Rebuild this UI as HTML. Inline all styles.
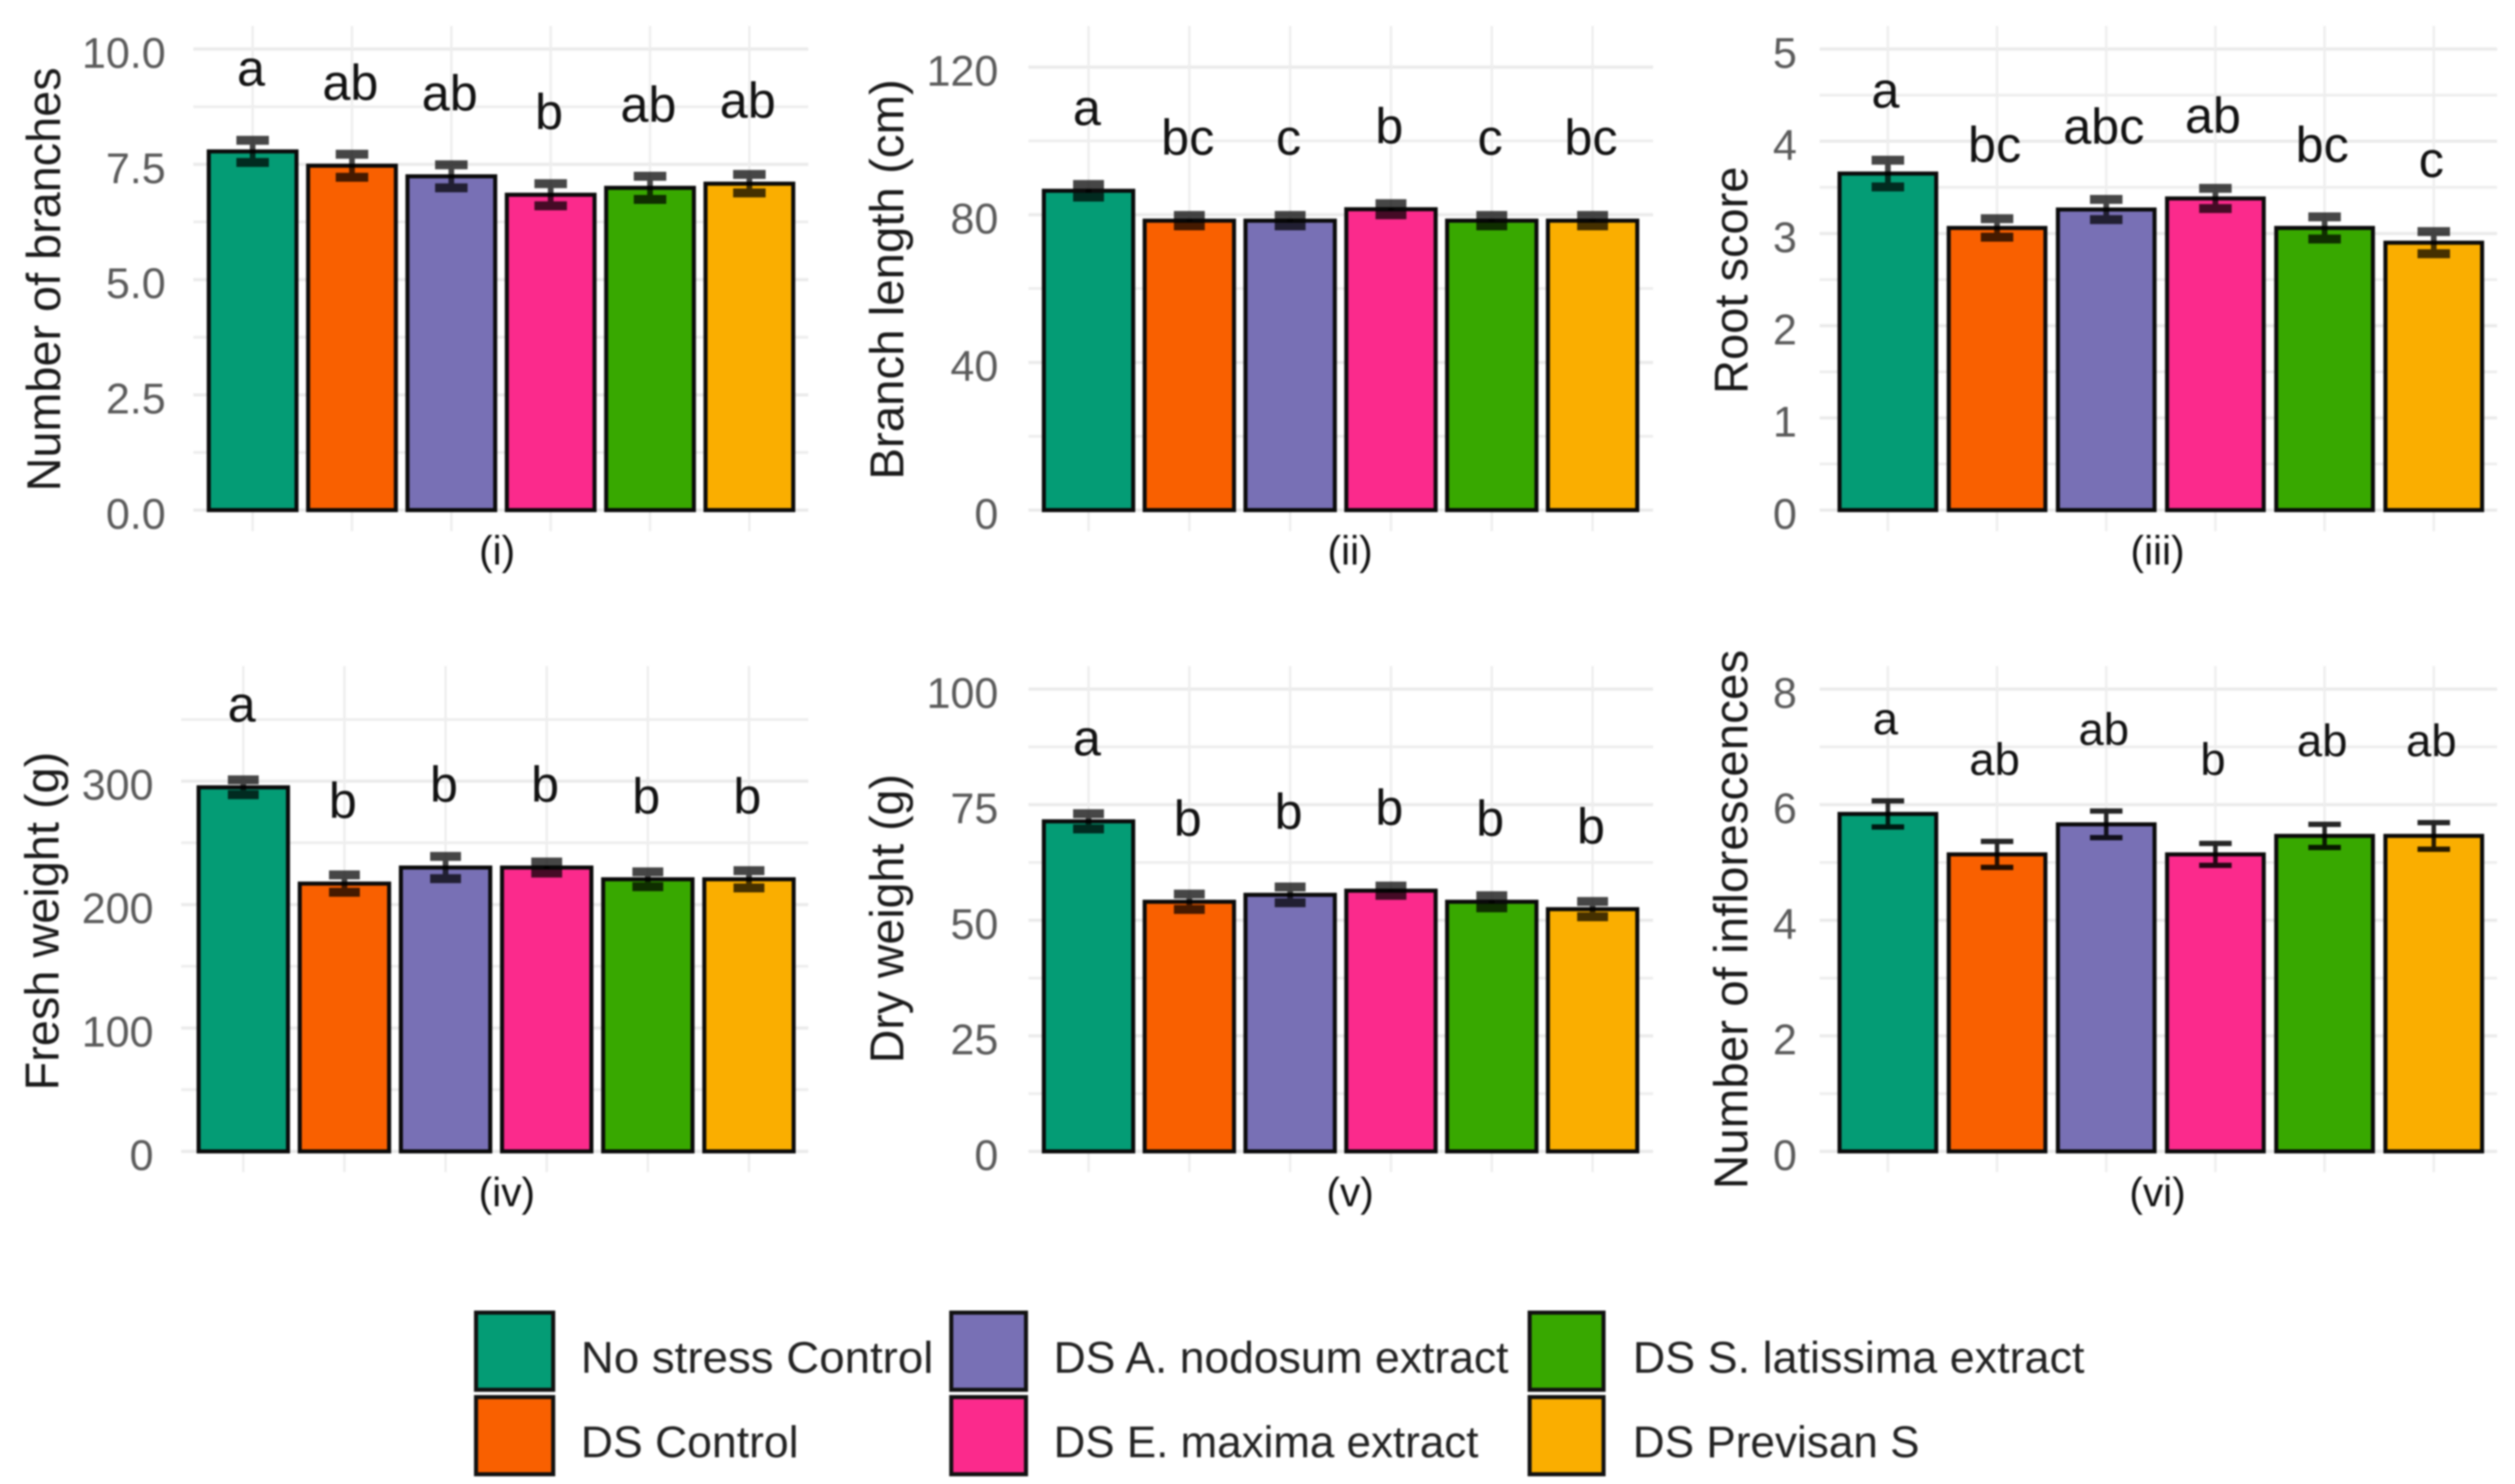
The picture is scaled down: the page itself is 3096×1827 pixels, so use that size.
<!DOCTYPE html>
<html lang="en">
<head>
<meta charset="utf-8">
<title>Biostimulant effects on plant traits</title>
<style>
html,body{margin:0;padding:0;background:#fff;width:3096px;height:1827px;overflow:hidden}
svg{display:block;font-family:"Liberation Sans",Arial,sans-serif;filter:blur(1px)}
</style>
</head>
<body>
<svg id="figure" xmlns="http://www.w3.org/2000/svg" width="3096" height="1827" viewBox="0 0 3096 1827">
  <rect x="0" y="0" width="3096" height="1827" fill="#fff"/>
  <g id="panels"></g>
  <g id="legend" font-size="55" fill="#222">
    <g>
      <rect x="586" y="1616" width="95" height="95" fill="#049c75" stroke="#111" stroke-width="5"/>
      <text x="715" y="1690" textLength="434" lengthAdjust="spacingAndGlyphs">No stress Control</text>
    </g>
    <g>
      <rect x="586" y="1720" width="95" height="95" fill="#f96000" stroke="#111" stroke-width="5"/>
      <text x="715" y="1794" textLength="268" lengthAdjust="spacingAndGlyphs">DS Control</text>
    </g>
    <g>
      <rect x="1171" y="1616" width="92" height="95" fill="#7870b5" stroke="#111" stroke-width="5"/>
      <text x="1297" y="1690" textLength="560" lengthAdjust="spacingAndGlyphs">DS A. nodosum extract</text>
    </g>
    <g>
      <rect x="1171" y="1720" width="92" height="95" fill="#fb2a8c" stroke="#111" stroke-width="5"/>
      <text x="1297" y="1794" textLength="523" lengthAdjust="spacingAndGlyphs">DS E. maxima extract</text>
    </g>
    <g>
      <rect x="1883" y="1616" width="91" height="95" fill="#38a800" stroke="#111" stroke-width="5"/>
      <text x="2010" y="1690" textLength="556" lengthAdjust="spacingAndGlyphs">DS S. latissima extract</text>
    </g>
    <g>
      <rect x="1883" y="1720" width="91" height="95" fill="#faae00" stroke="#111" stroke-width="5"/>
      <text x="2010" y="1794" textLength="353" lengthAdjust="spacingAndGlyphs">DS Previsan S</text>
    </g>
  </g>
</svg>
<script>
const treatments = ['no-stress-control','ds-control','ds-a-nodosum','ds-e-maxima','ds-s-latissima','ds-previsan-s'];

const branchesValues = [7.78,7.47,7.24,6.84,6.99,7.08];
const branchesErrors = [0.24,0.25,0.25,0.24,0.25,0.20];
const branchesLetters = ['a','ab','ab','b','ab','ab'];
const branchesTicks = ['0.0','2.5','5.0','7.5','10.0'];

const lengthValues = [86.5,78.4,78.4,81.5,78.4,78.4];
const lengthErrors = [1.7,1.4,1.4,1.5,1.4,1.4];
const lengthLetters = ['a','bc','c','b','c','bc'];
const lengthTicks = ['0','40','80','120'];

const rootValues = [3.65,3.06,3.26,3.38,3.06,2.90];
const rootErrors = [0.145,0.10,0.11,0.11,0.12,0.12];
const rootLetters = ['a','bc','abc','ab','bc','c'];
const rootTicks = ['0','1','2','3','4','5'];

const freshValues = [295,217,230,230,220.5,220.5];
const freshErrors = [6,7,9,4.5,6,7];
const freshLetters = ['a','b','b','b','b','b'];
const freshTicks = ['0','100','200','300'];

const dryValues = [71.4,54,55.5,56.4,54,52.4];
const dryErrors = [1.65,1.65,1.7,1,1.3,1.65];
const dryLetters = ['a','b','b','b','b','b'];
const dryTicks = ['0','25','50','75','100'];

const inflorValues = [5.84,5.14,5.66,5.14,5.46,5.46];
const inflorErrors = [0.225,0.225,0.23,0.19,0.20,0.23];
const inflorLetters = ['a','ab','ab','b','ab','ab'];
const inflorTicks = ['0','2','4','6','8'];

const barColors = ['#049c75','#f96000','#7870b5','#fb2a8c','#38a800','#faae00'];

const panels = [
  {id:'branches',caption:'(i)',title:'Number of branches',values:branchesValues,errors:branchesErrors,letters:branchesLetters,ticks:branchesTicks,gridMax:10,
   box:{gridL:238,gridR:995,first:311,step:122.3,barW:108,y0:628,yTop:60.4,vTop:32,vBot:654,tickR:204,capW:40,capH:11,lineW:7,capOp:0.72,letterSize:62,letterOff:81,letterDx:-2},
   titlePos:{x:74,y:344,len:522,size:58},captionPos:{x:612,y:695}},
  {id:'length',caption:'(ii)',title:'Branch length (cm)',values:lengthValues,errors:lengthErrors,letters:lengthLetters,ticks:lengthTicks,gridMax:120,
   box:{gridL:1266,gridR:2035,first:1340,step:124.1,barW:110,y0:628,yTop:82.6,vTop:32,vBot:654,tickR:1229,capW:38,capH:11,lineW:7,capOp:0.72,letterSize:62,letterOff:81,letterDx:-2},
   titlePos:{x:1112,y:344,len:493,size:58},captionPos:{x:1662,y:695}},
  {id:'root',caption:'(iii)',title:'Root score',values:rootValues,errors:rootErrors,letters:rootLetters,ticks:rootTicks,gridMax:5,
   box:{gridL:2240,gridR:3074,first:2324,step:134.4,barW:119,y0:628,yTop:60.4,vTop:32,vBot:654,tickR:2212,capW:40,capH:11,lineW:7,capOp:0.72,letterSize:62,letterOff:81,letterDx:-3},
   titlePos:{x:2151,y:345,len:280,size:58},captionPos:{x:2656,y:695}},
  {id:'fresh',caption:'(iv)',title:'Fresh weight (g)',values:freshValues,errors:freshErrors,letters:freshLetters,ticks:freshTicks,gridMax:350,
   box:{gridL:223,gridR:995,first:299.5,step:124.5,barW:110,y0:1417.5,yTop:961.7,vTop:820,vBot:1443,tickR:189,capW:38,capH:11,lineW:7,capOp:0.72,letterSize:62,letterOff:81,letterDx:-2},
   titlePos:{x:72,y:1134,len:417,size:58},captionPos:{x:624,y:1485}},
  {id:'dry',caption:'(v)',title:'Dry weight (g)',values:dryValues,errors:dryErrors,letters:dryLetters,ticks:dryTicks,gridMax:100,
   box:{gridL:1266,gridR:2035,first:1340,step:124.1,barW:110,y0:1417.5,yTop:848.4,vTop:820,vBot:1443,tickR:1229,capW:38,capH:11,lineW:7,capOp:0.72,letterSize:62,letterOff:81,letterDx:-2},
   titlePos:{x:1112,y:1131,len:356,size:58},captionPos:{x:1662,y:1485}},
  {id:'inflorescences',caption:'(vi)',title:'Number of inflorescences',values:inflorValues,errors:inflorErrors,letters:inflorLetters,ticks:inflorTicks,gridMax:8,
   box:{gridL:2240,gridR:3074,first:2324,step:134.4,barW:119,y0:1417.5,yTop:848.4,vTop:820,vBot:1443,tickR:2212,capW:40,capH:6.5,lineW:5.5,capOp:0.85,letterSize:56,letterOff:98,letterDx:-3},
   titlePos:{x:2151,y:1132,len:664,size:58},captionPos:{x:2656,y:1485}}
];

const NS = 'http://www.w3.org/2000/svg';
function make(tag, parent, attrs, text){
  const node = document.createElementNS(NS, tag);
  for(const k in attrs){ node.setAttribute(k, attrs[k]); }
  if(text !== undefined){ node.textContent = text; }
  parent.appendChild(node);
  return node;
}

function drawPanel(p){
  const root = document.getElementById('panels');
  const b = p.box;
  const tickNums = p.ticks.map(parseFloat);
  const topTick = tickNums[tickNums.length-1];
  const yScale = v => b.y0 - (v / topTick) * (b.y0 - b.yTop);
  const xScale = i => b.first + i * b.step;

  const g = make('g', root, {});
  
  

  const tickStep = tickNums[1] - tickNums[0];
  for(let v = tickStep/2; v <= p.gridMax + 1e-6; v += tickStep){
    const minor = make('line', g, {x1:b.gridL, x2:b.gridR, y1:yScale(v), y2:yScale(v), stroke:'#eeeeee', 'stroke-width':3.5});
    
    
  }
  tickNums.forEach(v => {
    const major = make('line', g, {x1:b.gridL, x2:b.gridR, y1:yScale(v), y2:yScale(v), stroke:'#ebebeb', 'stroke-width':4});
    
    
  });
  p.values.forEach((_, i) => {
    const vline = make('line', g, {x1:xScale(i), x2:xScale(i), y1:b.vTop, y2:b.vBot, stroke:'#eeeeee', 'stroke-width':3});
    
    
  });

  p.ticks.forEach((label, i) => {
    const t = make('text', g, {x:b.tickR, y:yScale(tickNums[i]) + 23, 'text-anchor':'end', 'font-size':53, fill:'#5a5a5a'}, label);
    
    
  });

  p.values.forEach((v, i) => {
    const bar = make('rect', g, {x:xScale(i) - b.barW/2, y:yScale(v), width:b.barW, height:b.y0 - yScale(v), fill:barColors[i], stroke:'#0a0a0a', 'stroke-width':5});
    
    
  });

  p.values.forEach((v, i) => {
    const hi = yScale(v + p.errors[i]);
    const lo = yScale(v - p.errors[i]);
    const x = xScale(i);
    const eg = make('g', g, {stroke:'#000', opacity:b.capOp});
    
    
    make('line', eg, {x1:x, x2:x, y1:hi, y2:lo, 'stroke-width':b.lineW});
    make('line', eg, {x1:x - b.capW/2, x2:x + b.capW/2, y1:hi, y2:hi, 'stroke-width':b.capH});
    make('line', eg, {x1:x - b.capW/2, x2:x + b.capW/2, y1:lo, y2:lo, 'stroke-width':b.capH});
  });

  p.letters.forEach((letter, i) => {
    const t = make('text', g, {x:xScale(i) + b.letterDx, y:yScale(p.values[i]) - b.letterOff, 'text-anchor':'middle', 'font-size':b.letterSize, fill:'#111'}, letter);
    
    
  });

  const title = make('text', g, {transform:'translate(' + p.titlePos.x + ',' + p.titlePos.y + ') rotate(-90)', 'text-anchor':'middle', 'font-size':p.titlePos.size, fill:'#1a1a1a', textLength:p.titlePos.len, lengthAdjust:'spacingAndGlyphs'}, p.title);
  
  

  const cap = make('text', g, {x:p.captionPos.x, y:p.captionPos.y, 'text-anchor':'middle', 'font-size':50, fill:'#111'}, p.caption);
  
  
}

panels.forEach(drawPanel);
</script>
</body>
</html>
